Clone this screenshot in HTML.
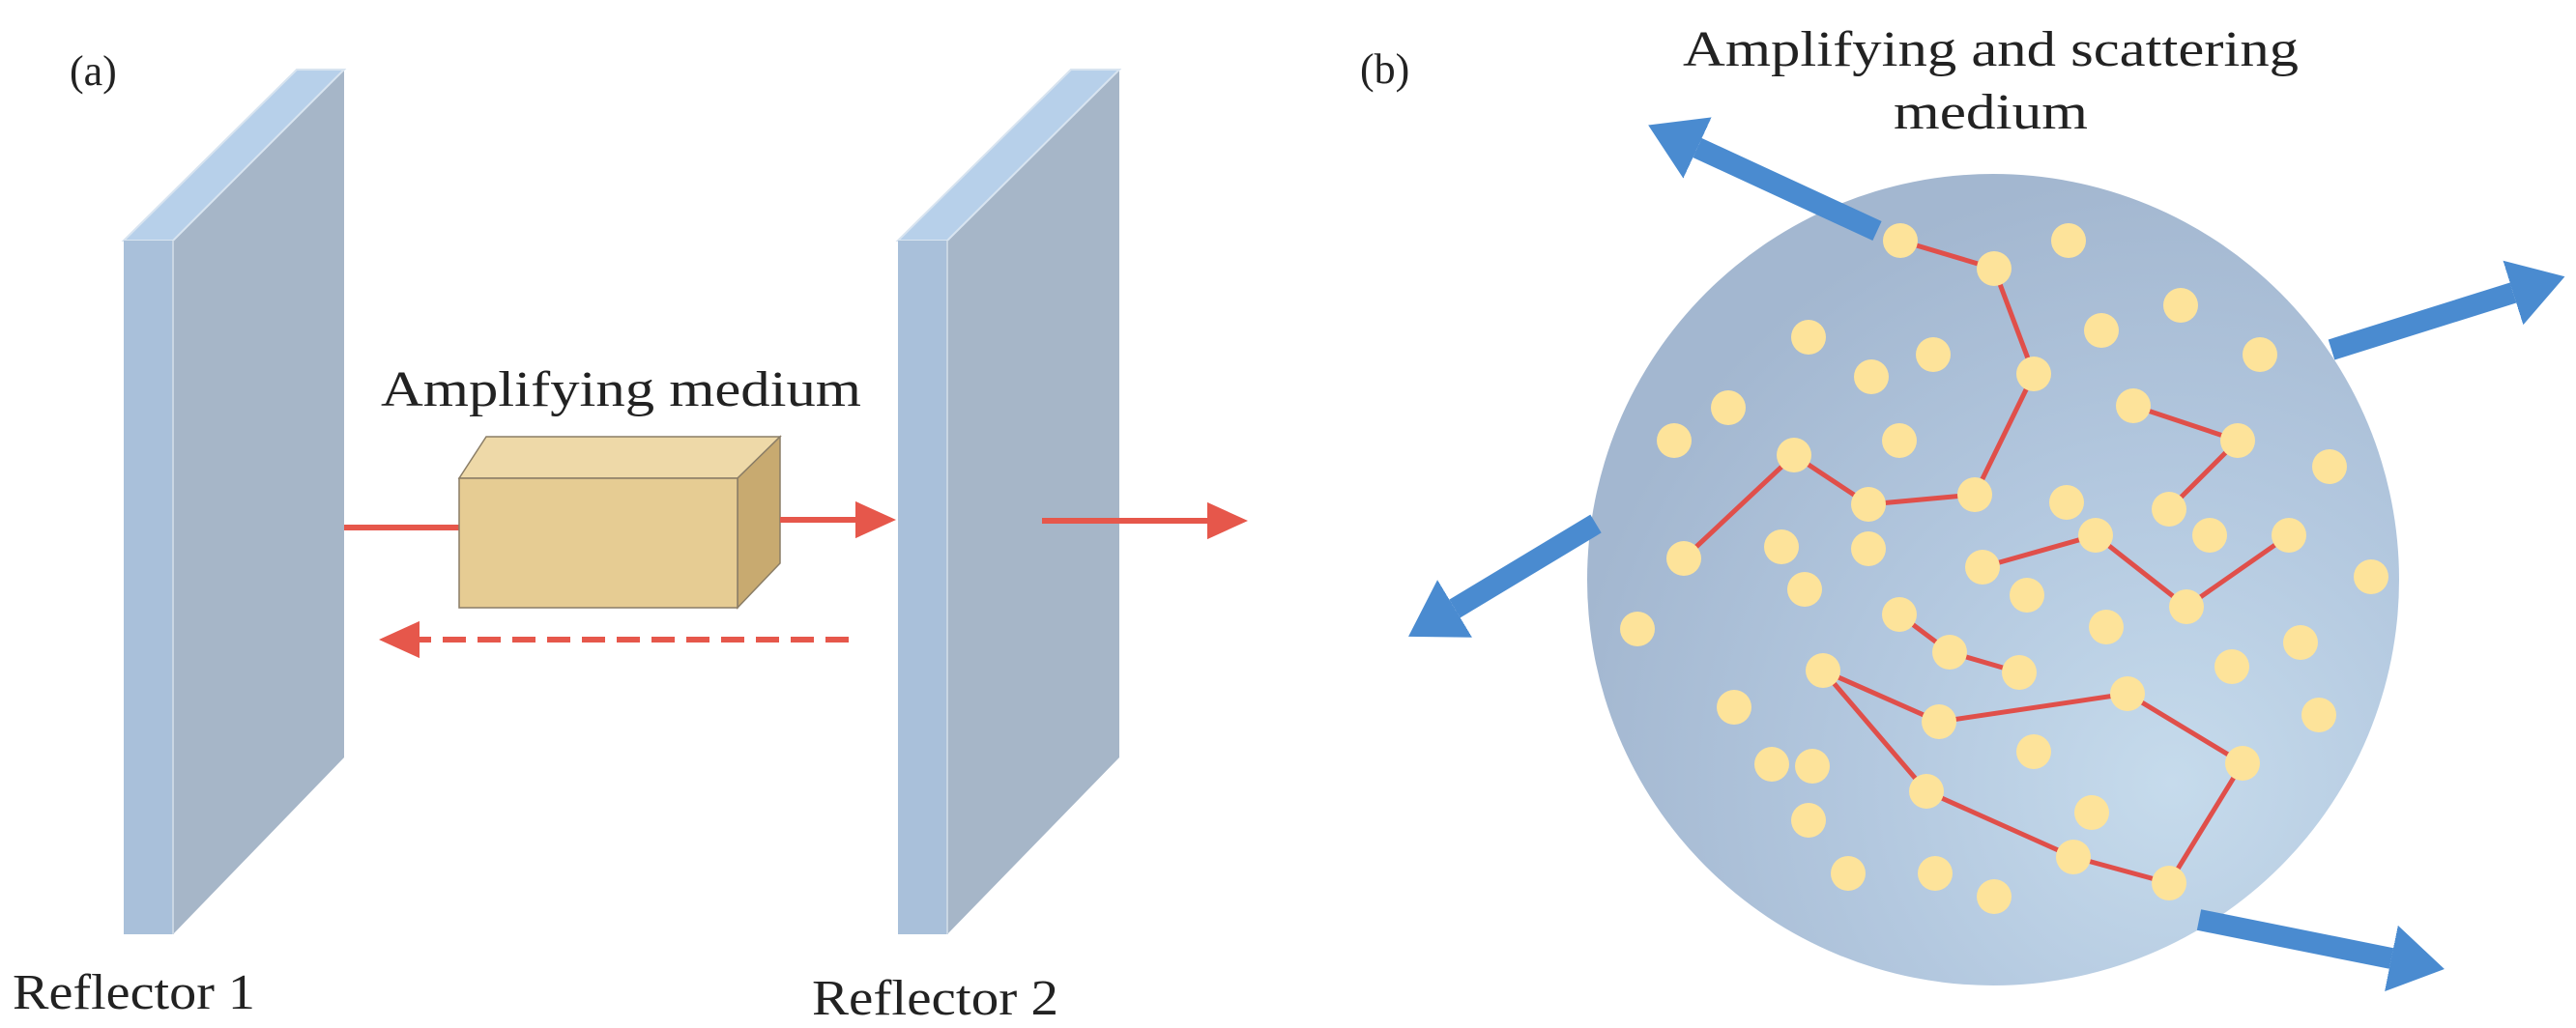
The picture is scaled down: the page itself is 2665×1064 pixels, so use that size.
<!DOCTYPE html>
<html><head><meta charset="utf-8"><style>
html,body{margin:0;padding:0;background:#fff;}
svg{display:block;}
text{font-family:"Liberation Serif",serif;fill:#222;}
</style></head><body>
<svg width="2665" height="1064" viewBox="0 0 2665 1064" xmlns="http://www.w3.org/2000/svg">
<defs>
<marker id="bh" markerUnits="userSpaceOnUse" markerWidth="60" markerHeight="80" viewBox="0 -40 60 80" refX="0" refY="0" orient="auto"><path d="M-2,-36 L56,0 L-2,36 z" fill="#4a8bd0"/></marker>
<marker id="rh" markerUnits="userSpaceOnUse" markerWidth="46" markerHeight="50" viewBox="0 -25 46 50" refX="0" refY="0" orient="auto"><path d="M-2,-20 L42,0 L-2,20 z" fill="#e6574b"/></marker>
<radialGradient id="cg" cx="0.72" cy="0.75" r="0.75">
<stop offset="0" stop-color="#c6dbec"/><stop offset="0.5" stop-color="#b3c8df"/><stop offset="1" stop-color="#a3b7d0"/></radialGradient>
</defs>
<text x="72" y="88" font-size="44">(a)</text>
<polygon points="179,249 356,72 356,784 179,967" fill="#a6b6c8"/>
<polygon points="128,249 307,72 356,72 179,249" fill="#b7d0ea" stroke="#d8e4f0" stroke-width="2"/>
<rect x="128" y="249" width="51" height="718" fill="#a9c0da"/>
<line x1="179" y1="249" x2="179" y2="967" stroke="#c9d6e3" stroke-width="2"/>
<polygon points="980,249 1158,72 1158,784 980,967" fill="#a6b6c8"/>
<polygon points="929,249 1108,72 1158,72 980,249" fill="#b7d0ea" stroke="#d8e4f0" stroke-width="2"/>
<rect x="929" y="249" width="51" height="718" fill="#a9c0da"/>
<line x1="980" y1="249" x2="980" y2="967" stroke="#c9d6e3" stroke-width="2"/>
<line x1="356" y1="546" x2="476" y2="546" stroke="#e6574b" stroke-width="6"/>
<polygon points="475,495 503,452 807,452 763,495" fill="#eed9a8" stroke="#8a7d66" stroke-width="1.5"/>
<polygon points="763,495 807,452 807,583 763,629" fill="#c8aa70" stroke="#8a7d66" stroke-width="1.5"/>
<rect x="475" y="495" width="288" height="134" fill="#e6cc93" stroke="#8a7d66" stroke-width="1.5"/>
<text x="394" y="420" font-size="52" textLength="497" lengthAdjust="spacingAndGlyphs">Amplifying medium</text>
<line x1="807" y1="538" x2="885" y2="538" stroke="#e6574b" stroke-width="6" marker-end="url(#rh)"/>
<line x1="1078" y1="539" x2="1249" y2="539" stroke="#e6574b" stroke-width="6" marker-end="url(#rh)"/>
<line x1="878" y1="662" x2="434" y2="662" stroke="#e6574b" stroke-width="6" stroke-dasharray="24,12" marker-end="url(#rh)"/>
<text x="13" y="1044" font-size="52" textLength="251" lengthAdjust="spacingAndGlyphs">Reflector 1</text>
<text x="840" y="1050" font-size="52" textLength="255" lengthAdjust="spacingAndGlyphs">Reflector 2</text>
<text x="1407" y="86" font-size="44">(b)</text>
<text x="1741" y="68" font-size="52" textLength="637" lengthAdjust="spacingAndGlyphs">Amplifying and scattering</text>
<text x="1959" y="133" font-size="52" textLength="201" lengthAdjust="spacingAndGlyphs">medium</text>
<circle cx="2062" cy="600" r="420" fill="url(#cg)"/>
<g stroke="#e04f4a" stroke-width="5" fill="none">
<polyline points="1966,249 2063,278 2104,387 2043,512 1933,522 1856,471 1742,578"/>
<polyline points="2207,420 2315,456 2244,527"/>
<polyline points="2051,587 2168,554 2262,628 2368,554"/>
<polyline points="1965,636 2017,675 2089,696"/>
<polygon points="1886,694 2006,747 2201,718 2320,790 2244,914 2145,887 1993,819"/>
</g>
<g fill="#fde39a">
<circle cx="1966" cy="249" r="18"/><circle cx="2063" cy="278" r="18"/><circle cx="2104" cy="387" r="18"/><circle cx="2043" cy="512" r="18"/><circle cx="1933" cy="522" r="18"/><circle cx="1856" cy="471" r="18"/><circle cx="1742" cy="578" r="18"/>
<circle cx="2207" cy="420" r="18"/><circle cx="2315" cy="456" r="18"/><circle cx="2244" cy="527" r="18"/>
<circle cx="2051" cy="587" r="18"/><circle cx="2168" cy="554" r="18"/><circle cx="2262" cy="628" r="18"/><circle cx="2368" cy="554" r="18"/>
<circle cx="1965" cy="636" r="18"/><circle cx="2017" cy="675" r="18"/><circle cx="2089" cy="696" r="18"/>
<circle cx="1886" cy="694" r="18"/><circle cx="2006" cy="747" r="18"/><circle cx="2201" cy="718" r="18"/><circle cx="2320" cy="790" r="18"/><circle cx="2244" cy="914" r="18"/><circle cx="2145" cy="887" r="18"/><circle cx="1993" cy="819" r="18"/>
<circle cx="2140" cy="249" r="18"/><circle cx="2256" cy="316" r="18"/><circle cx="1871" cy="349" r="18"/><circle cx="2000" cy="367" r="18"/><circle cx="1936" cy="390" r="18"/><circle cx="2174" cy="342" r="18"/><circle cx="2338" cy="367" r="18"/><circle cx="1788" cy="422" r="18"/><circle cx="1732" cy="456" r="18"/><circle cx="1965" cy="456" r="18"/><circle cx="2138" cy="520" r="18"/><circle cx="2410" cy="483" r="18"/><circle cx="2286" cy="554" r="18"/><circle cx="1843" cy="566" r="18"/><circle cx="1933" cy="568" r="18"/><circle cx="1867" cy="610" r="18"/><circle cx="2097" cy="616" r="18"/><circle cx="2453" cy="597" r="18"/><circle cx="1694" cy="651" r="18"/><circle cx="2179" cy="649" r="18"/><circle cx="2380" cy="665" r="18"/><circle cx="2309" cy="690" r="18"/><circle cx="1794" cy="732" r="18"/><circle cx="2104" cy="778" r="18"/><circle cx="2399" cy="740" r="18"/><circle cx="1833" cy="791" r="18"/><circle cx="1875" cy="793" r="18"/><circle cx="2164" cy="841" r="18"/><circle cx="1871" cy="849" r="18"/><circle cx="1912" cy="904" r="18"/><circle cx="2002" cy="904" r="18"/><circle cx="2063" cy="928" r="18"/>
</g>
<g stroke="#4a8bd0" stroke-width="22" fill="none">
<line x1="1942" y1="239" x2="1756" y2="153" marker-end="url(#bh)"/>
<line x1="2412" y1="362" x2="2600" y2="303" marker-end="url(#bh)"/>
<line x1="1651" y1="542" x2="1505" y2="630" marker-end="url(#bh)"/>
<line x1="2275" y1="952" x2="2474" y2="992" marker-end="url(#bh)"/>
</g>
</svg>
</body></html>
